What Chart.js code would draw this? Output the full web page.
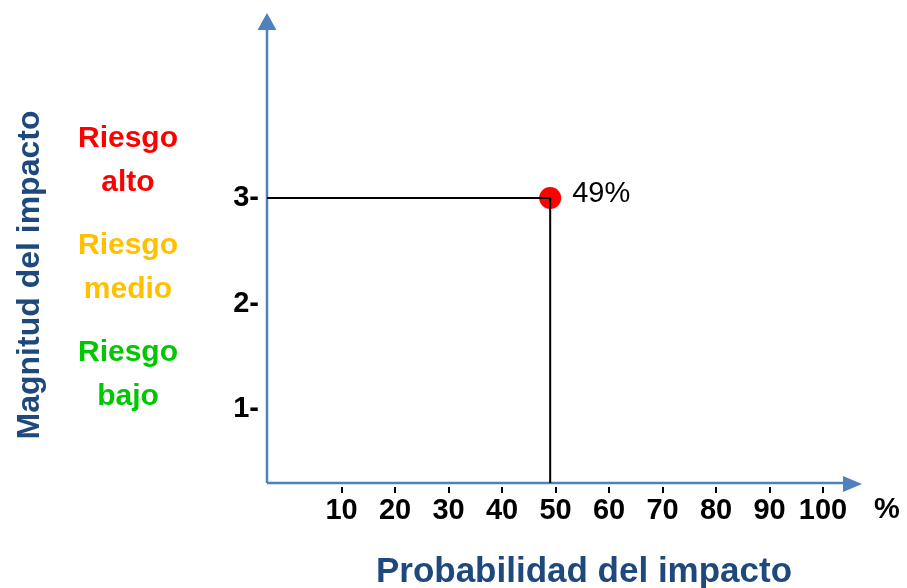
<!DOCTYPE html>
<html>
<head>
<meta charset="utf-8">
<script src="https://cdn.jsdelivr.net/npm/chart.js@4.4.0/dist/chart.umd.min.js"></script>
<style>
  html, body { margin: 0; padding: 0; background: #fff; }
  canvas { display: block; }
</style>
</head>
<body>
<canvas id="riskChart" width="907" height="588"></canvas>
<script>
// datos del grafico
const xTicks = [10, 20, 30, 40, 50, 60, 70, 80, 90, 100];
const yTicks = [1, 2, 3];
const probability = [49];
const magnitude = [3];
const pointLabels = ['49%'];
const riskLabels = [['Riesgo', 'alto'], ['Riesgo', 'medio'], ['Riesgo', 'bajo']];
const riskColors = ['#ff0000', '#ffc000', '#00c800'];

const X_MIN = -3.93, X_MAX = 107.28;
const Y_MIN = 0.3, Y_MAX = 4.754;

const AXIS_BLUE = '#4f81bd';
const TITLE_BLUE = '#1f497d';
const FONT = '"Liberation Sans", Arial, sans-serif';

const guideLine = [
    { x: X_MIN, y: magnitude[0] },
    { x: probability[0], y: magnitude[0] },
    { x: probability[0], y: Y_MIN }
];

const decorations = {
    id: 'decorations',
    beforeDatasetsDraw(chart) {
        const { ctx, chartArea: a, scales } = chart;
        ctx.save();
        ctx.strokeStyle = AXIS_BLUE;
        ctx.fillStyle = AXIS_BLUE;
        ctx.lineWidth = 2.5;
        // eje y
        ctx.beginPath();
        ctx.moveTo(a.left, a.bottom);
        ctx.lineTo(a.left, a.top + 14);
        ctx.stroke();
        ctx.beginPath();
        ctx.moveTo(a.left, a.top);
        ctx.lineTo(a.left - 9.5, a.top + 17);
        ctx.lineTo(a.left + 9.5, a.top + 17);
        ctx.closePath();
        ctx.fill();
        // eje x
        ctx.beginPath();
        ctx.moveTo(a.left, a.bottom);
        ctx.lineTo(a.right - 14, a.bottom);
        ctx.stroke();
        ctx.beginPath();
        ctx.moveTo(a.right, a.bottom + 1);
        ctx.lineTo(a.right - 19, a.bottom - 7);
        ctx.lineTo(a.right - 19, a.bottom + 9);
        ctx.closePath();
        ctx.fill();
        // marcas del eje x
        ctx.strokeStyle = '#000';
        ctx.lineWidth = 2;
        xTicks.forEach(v => {
            const px = Math.round(scales.x.getPixelForValue(v));
            ctx.beginPath();
            ctx.moveTo(px, a.bottom + 4);
            ctx.lineTo(px, a.bottom + 10);
            ctx.stroke();
        });
        ctx.restore();
    },
    afterDraw(chart) {
        const { ctx, scales } = chart;
        ctx.save();
        ctx.textAlign = 'center';
        ctx.textBaseline = 'middle';
        // niveles de riesgo
        ctx.font = 'bold 30px ' + FONT;
        riskLabels.forEach((lines, i) => {
            ctx.fillStyle = riskColors[i];
            const y0 = 139 + i * 107;
            lines.forEach((t, j) => ctx.fillText(t, 128, y0 + j * 44));
        });
        // titulos
        ctx.fillStyle = TITLE_BLUE;
        ctx.font = 'bold 35px ' + FONT;
        ctx.fillText('Probabilidad del impacto', 584, 572);
        ctx.save();
        ctx.translate(30, 275);
        ctx.rotate(-Math.PI / 2);
        ctx.font = 'bold 32px ' + FONT;
        ctx.fillText('Magnitud del impacto', 0, 0);
        ctx.restore();
        // simbolo de porcentaje
        ctx.fillStyle = '#000';
        ctx.font = 'bold 29px ' + FONT;
        ctx.fillText('%', 887, 510);
        // etiqueta del punto
        ctx.textAlign = 'left';
        ctx.font = '29px ' + FONT;
        probability.forEach((p, i) => {
            const px = scales.x.getPixelForValue(p);
            const py = scales.y.getPixelForValue(magnitude[i]);
            ctx.fillText(pointLabels[i], px + 22, py - 4);
        });
        ctx.restore();
    }
};

new Chart(document.getElementById('riskChart'), {
    type: 'scatter',
    data: {
        datasets: [
            {
                type: 'line',
                data: guideLine,
                borderColor: '#000',
                borderWidth: 2,
                pointRadius: 0,
                fill: false,
                tension: 0,
                clip: false
            },
            {
                data: probability.map((p, i) => ({ x: p, y: magnitude[i] })),
                backgroundColor: '#ff0000',
                borderWidth: 0,
                pointRadius: 11,
                clip: false
            }
        ]
    },
    options: {
        responsive: false,
        animation: false,
        devicePixelRatio: 1,
        layout: { padding: { top: 13, right: 45, left: 0, bottom: 0 } },
        plugins: { legend: { display: false }, tooltip: { enabled: false } },
        scales: {
            x: {
                type: 'linear',
                min: X_MIN,
                max: X_MAX,
                afterBuildTicks: s => { s.ticks = xTicks.map(v => ({ value: v })); },
                afterFit: s => { s.height = 105; s.paddingLeft = 0; s.paddingRight = 0; },
                grid: { display: false, drawTicks: false },
                border: { display: false },
                ticks: {
                    autoSkip: false,
                    maxRotation: 0,
                    padding: 11,
                    color: '#000',
                    font: { family: FONT, size: 29, weight: 'bold' }
                }
            },
            y: {
                type: 'linear',
                min: Y_MIN,
                max: Y_MAX,
                afterBuildTicks: s => { s.ticks = yTicks.map(v => ({ value: v })); },
                afterFit: s => { s.width = 267; s.paddingTop = 0; s.paddingBottom = 0; },
                grid: { display: false, drawTicks: false },
                border: { display: false },
                ticks: {
                    padding: 8,
                    color: '#000',
                    font: { family: FONT, size: 29, weight: 'bold' },
                    callback: v => v + '-'
                }
            }
        }
    },
    plugins: [decorations]
});
</script>
</body>
</html>
